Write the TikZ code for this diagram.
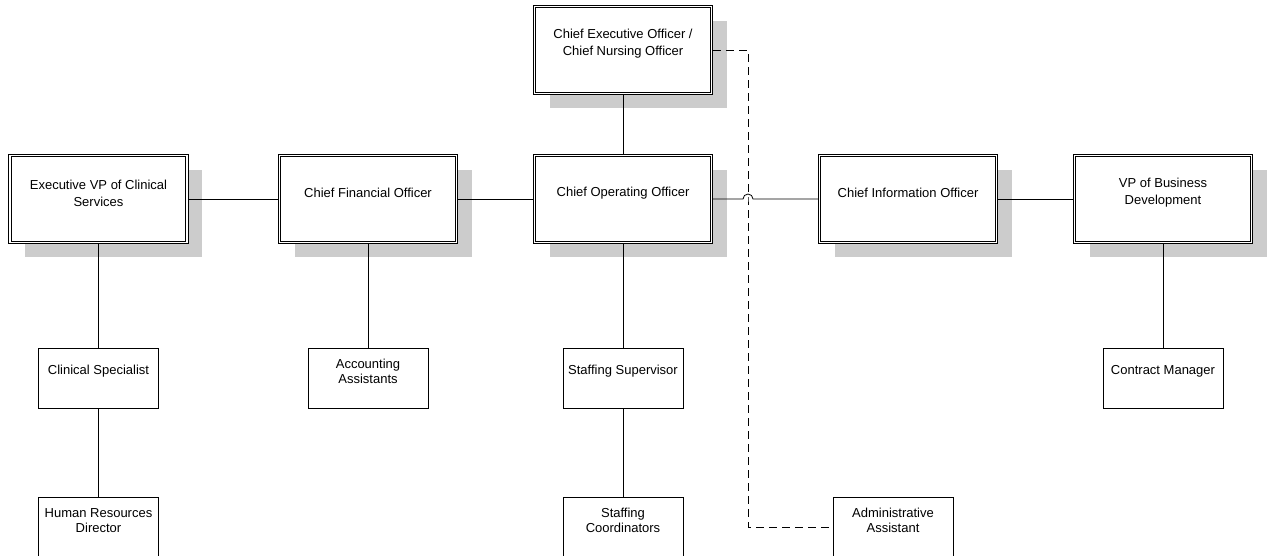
\documentclass[tikz,border=0pt]{standalone}
\usepackage{fontspec}
\setmainfont{Liberation Sans}
\usetikzlibrary{shadows}

\begin{document}
\begin{tikzpicture}[x=1pt,y=-1pt,line width=0.8pt,
    bigbox/.style={draw,double,double distance=1.6pt,fill=white,minimum width=177pt,minimum height=87pt,outer sep=1.6pt,
      drop shadow={shadow xshift=15pt,shadow yshift=-15pt,fill=black!20,opacity=1}},
    smallbox/.style={draw,fill=white,minimum width=120pt,minimum height=60pt},
    bigtext/.style={align=center,font=\fontsize{13}{17}\selectfont,yshift=6pt},
    smalltext/.style={align=center,font=\fontsize{13}{15}\selectfont,yshift=6.5pt}]
            \useasboundingbox (0,0) rectangle (1267,556);
            % top level
            \node[bigbox,label={[bigtext]center:Chief Executive Officer /\\Chief Nursing Officer}] (ceo) at (623,50){};
            % officers row
            \node[bigbox,label={[bigtext]center:Executive VP of Clinical\\Services}] (evp) at (98.5,199){};
            \node[bigbox,label={[bigtext]center:Chief Financial Officer}] (cfo) at (368,199){};
            \node[bigbox,label={[bigtext]center:Chief Operating Officer}] (coo) at (623,199){};
            \node[bigbox,label={[bigtext]center:Chief Information Officer}] (cio) at (908,199){};
            \node[bigbox,label={[bigtext]center:VP of Business\\Development}] (vpbd) at (1163,199){};
            % staff
            \node[smallbox,label={[smalltext]center:Clinical Specialist}] (clin) at (98.5,378){};
            \node[smallbox,label={[smalltext]center:Accounting\\Assistants}] (acct) at (368,378){};
            \node[smallbox,label={[smalltext]center:Staffing Supervisor}] (stsup) at (623,378){};
            \node[smallbox,label={[smalltext]center:Contract Manager}] (contract) at (1163,378){};
            \node[smallbox,label={[smalltext]center:Human Resources\\Director}] (hrd) at (98.5,527){};
            \node[smallbox,label={[smalltext]center:Staffing\\Coordinators}] (stcoord) at (623,527){};
            \node[smallbox,label={[smalltext]center:Administrative\\Assistant}] (admin) at (893,527){};
            \coordinate (hop) at (748,199);
            % connectors
            \draw(ceo.south)--(coo.north);
            \draw(evp.east)--(cfo.west);
            \draw(cfo.east)--(coo.west);
            \draw(coo.east)--([xshift=-5pt]hop) arc[start angle=180,end angle=0,radius=5pt]--(cio.west);
            \draw(cio.east)--(vpbd.west);
            \draw(evp.south)--(clin.north);
            \draw(clin.south)--(hrd.north);
            \draw(cfo.south)--(acct.north);
            \draw(coo.south)--(stsup.north);
            \draw(stsup.south)--(stcoord.north);
            \draw(vpbd.south)--(contract.north);
            \draw[dash pattern=on 8pt off 5pt](ceo.east)-|(hop)|-(admin.west);
\end{tikzpicture}
\end{document}
